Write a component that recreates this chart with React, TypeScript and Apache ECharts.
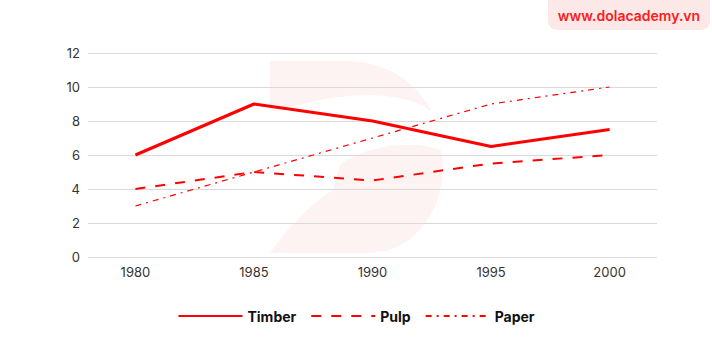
import React, { useEffect, useRef } from "react";
import * as echarts from "echarts";

const years = [1980, 1985, 1990, 1995, 2000];
const timber = [6, 9, 8, 6.5, 7.5];
const pulp = [4, 5, 4.5, 5.5, 6];
const paper = [3, 5, 7, 9, 10];
const yTicks = [0, 2, 4, 6, 8, 10, 12];

const upperD =
  "M 270 61 L 345 61 C 385 61 415 80 432 112 C 410 92 350 90 300 105 C 285 110 275 113 270 110 Z";
const lowerD =
  "M 270 253 C 290 225 315 200 333 190 L 340 165 C 360 148 410 138 441 150 C 449 190 430 235 390 250 C 370 254 350 253 340 253 Z";

echarts.graphic.registerShape("wmUpper", echarts.graphic.extendPath(upperD, {}));
echarts.graphic.registerShape("wmLower", echarts.graphic.extendPath(lowerD, {}));

const font = "Inter, 'Noto Sans', sans-serif";

export default function App() {
  const ref = useRef<HTMLDivElement>(null);
  useEffect(() => {
    document.body.style.margin = "0";
    if (!ref.current) return;
    const chart = echarts.init(ref.current, undefined, { renderer: "svg" });
    const pair = (arr: number[]) => years.map((y, i) => [y, arr[i]]);
    chart.setOption({
      animation: false,
      backgroundColor: "#ffffff",
      textStyle: { fontFamily: font },
      graphic: [
        { type: "wmUpper", x: 0, y: 0, z: -10, silent: true, style: { fill: "#fef3f3" } },
        { type: "wmLower", x: 0, y: 0, z: -10, silent: true, style: { fill: "#fef3f3" } },
        {
          type: "rect",
          shape: { x: 548, y: -10, width: 162, height: 40, r: 9 },
          style: { fill: "#fde8e8" },
          z: 10,
        },
        {
          type: "text",
          x: 629,
          y: 15,
          z: 11,
          style: {
            text: "www.dolacademy.vn",
            fill: "#ff1a1a",
            font: "600 14px " + font,
            textAlign: "center",
            textVerticalAlign: "middle",
          },
        },
      ],
      grid: { left: 88, right: 55, top: 53, bottom: 103, containLabel: false },
      xAxis: {
        type: "value",
        min: 1978,
        max: 2002,
        axisLine: { show: false },
        axisTick: { show: false },
        splitLine: { show: false },
        axisLabel: {
          customValues: years,
          margin: 8,
          color: "#333",
          fontSize: 13,
          fontFamily: font,
          formatter: (v: number) => String(v),
        },
      },
      yAxis: {
        type: "value",
        min: 0,
        max: 12,
        interval: 2,
        z: 1,
        axisLine: { show: false },
        axisTick: { show: false },
        splitLine: { lineStyle: { color: "#d9d9d9", width: 1 } },
        axisLabel: {
          customValues: yTicks,
          margin: 8,
          color: "#333",
          fontSize: 13,
          fontFamily: font,
        },
      },
      legend: {
        bottom: 32,
        left: "center",
        itemWidth: 64,
        itemHeight: 10,
        itemGap: 14,
        itemStyle: { opacity: 0 },
        textStyle: { fontSize: 14, fontWeight: "bold", color: "#111", fontFamily: font },
        data: ["Timber", "Pulp", "Paper"],
      },
      series: [
        {
          name: "Timber",
          type: "line",
          data: pair(timber),
          symbol: "none",
          lineStyle: { color: "#ff0000", width: 3 },
          itemStyle: { color: "#ff0000" },
        },
        {
          name: "Pulp",
          type: "line",
          data: pair(pulp),
          symbol: "none",
          lineStyle: { color: "#ff0000", width: 2, type: [10, 10] },
          itemStyle: { color: "#ff0000" },
        },
        {
          name: "Paper",
          type: "line",
          data: pair(paper),
          symbol: "none",
          lineStyle: { color: "#ff0000", width: 1.2, type: [6, 5, 2, 5] },
          itemStyle: { color: "#ff0000" },
        },
      ],
    });
    return () => chart.dispose();
  }, []);
  return <div ref={ref} style={{ width: 712, height: 360 }} />;
}
